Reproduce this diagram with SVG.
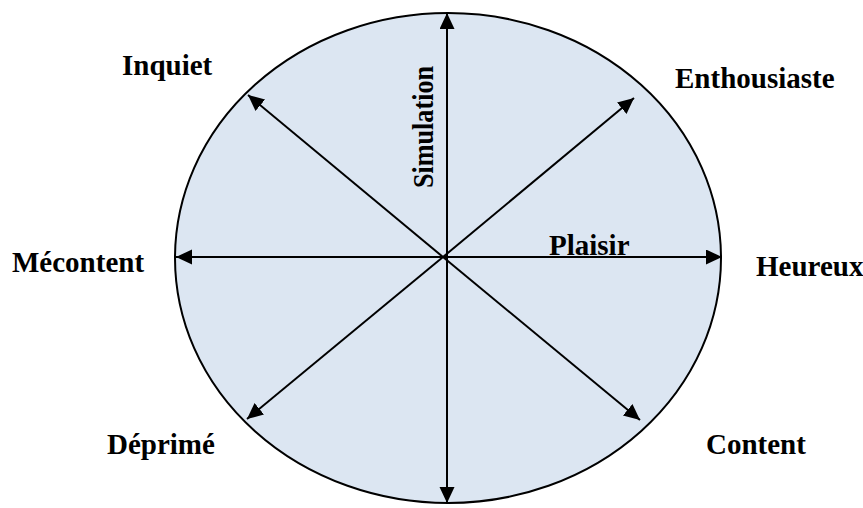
<svg xmlns="http://www.w3.org/2000/svg" width="863" height="508" viewBox="0 0 863 508">
<style>
.lbl{font-family:"Liberation Serif","Times New Roman",serif;font-weight:bold;font-size:29px;fill:#000}
.ax{stroke:#000;stroke-width:2;fill:none}
</style>
<defs>
<marker id="ah" markerUnits="userSpaceOnUse" markerWidth="17" markerHeight="16" refX="16" refY="7.5" orient="auto">
<path d="M0,0 L16,7.5 L0,15 z" fill="#000"/>
</marker>
</defs>
<g id="circle">
<ellipse cx="448" cy="258" rx="273" ry="245" fill="#dce6f2" stroke="#000" stroke-width="2"/>
</g>
<g id="connectors">
<line class="ax" x1="447" y1="257" x2="447" y2="13" marker-end="url(#ah)"/>
<line class="ax" x1="447" y1="257" x2="447" y2="503" marker-end="url(#ah)"/>
<line class="ax" x1="443" y1="257" x2="176" y2="257" marker-end="url(#ah)"/>
<line class="ax" x1="443" y1="257" x2="722" y2="257" marker-end="url(#ah)"/>
<line class="ax" x1="443" y1="257" x2="248" y2="95" marker-end="url(#ah)"/>
<line class="ax" x1="443" y1="257" x2="634" y2="98" marker-end="url(#ah)"/>
<line class="ax" x1="443" y1="257" x2="247" y2="419" marker-end="url(#ah)"/>
<line class="ax" x1="443" y1="257" x2="640" y2="420" marker-end="url(#ah)"/>
</g>
<g id="axis-simulation"><text class="lbl" transform="translate(433,188) rotate(-90)" textLength="122" lengthAdjust="spacingAndGlyphs">Simulation</text></g>
<g id="axis-plaisir"><text class="lbl" x="549" y="255">Plaisir</text></g>
<g id="inquiet"><text class="lbl" x="122" y="75">Inquiet</text></g>
<g id="enthousiaste"><text class="lbl" x="675" y="88">Enthousiaste</text></g>
<g id="mecontent"><text class="lbl" x="12" y="272">Mécontent</text></g>
<g id="heureux"><text class="lbl" x="756" y="276">Heureux</text></g>
<g id="deprime"><text class="lbl" x="107" y="454">Déprimé</text></g>
<g id="content"><text class="lbl" x="706" y="454">Content</text></g>
</svg>
